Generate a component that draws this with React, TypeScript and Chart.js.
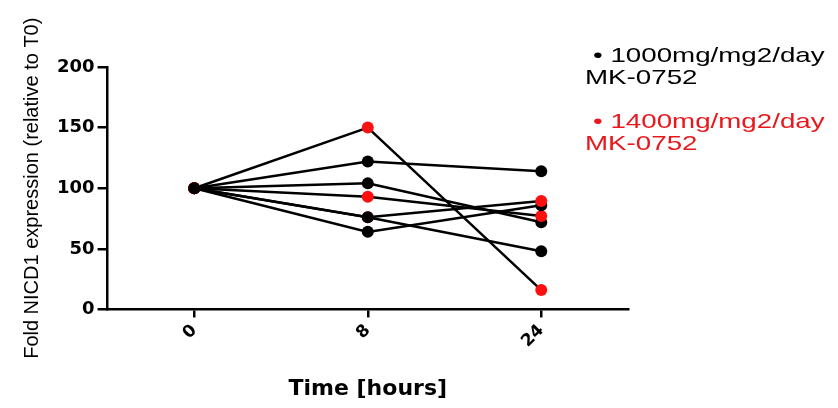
import React, { useEffect, useRef } from "react";
import { Chart, registerables } from "chart.js";

Chart.register(...registerables);

// Time points (hours)
const timeLabels = ["0", "8", "24"];

// Individual patient traces, 1000 mg/m2/day MK-0752 (black)
const dose1000_p1 = [100, 122, 114];
const dose1000_p2 = [100, 104, 72];
const dose1000_p3 = [100, 76, 48];
const dose1000_p4 = [100, 64, 86];

// Individual patient traces, 1400 mg/m2/day MK-0752 (red)
const dose1400_p1 = [100, 150, 16];
const dose1400_p2 = [100, 93, 77];
const dose1400_p3 = [100, 76, 89.5];

const yTicks = [0, 50, 100, 150, 200];

const legendLines1000 = ["\u2022 1000mg/mg2/day", "MK-0752"];
const legendLines1400 = ["\u2022 1400mg/mg2/day", "MK-0752"];

const BLACK = "#000000";
const RED = "#ff1010";
const RED_TEXT = "#e8181c";

const legendPlugin = {
  id: "textLegend",
  afterDraw(chart: any) {
    const ctx = chart.ctx;
    const groups = [
      { lines: legendLines1000, color: BLACK, x0: 593, x1: 585, y: 56 },
      { lines: legendLines1400, color: RED_TEXT, x0: 593, x1: 585, y: 122 },
    ];
    ctx.save();
    ctx.font = "21px 'Liberation Sans', Arial, sans-serif";
    ctx.textBaseline = "middle";
    ctx.textAlign = "left";
    groups.forEach((g) => {
      ctx.fillStyle = g.color;
      g.lines.forEach((line, i) => {
        ctx.save();
        ctx.translate(i === 0 ? g.x0 : g.x1, g.y + i * 22);
        ctx.scale(1.32, 1);
        ctx.fillText(line, 0, 0);
        ctx.restore();
      });
    });
    ctx.restore();
  },
};

function makeDataset(values: number[], color: string) {
  return {
    data: values,
    borderColor: BLACK,
    borderWidth: 2.5,
    pointRadius: 6,
    pointHoverRadius: 6,
    pointBorderWidth: 0,
    pointBackgroundColor: color,
    pointBorderColor: color,
    fill: false,
    tension: 0,
  };
}

export default function App() {
  const canvasRef = useRef<HTMLCanvasElement | null>(null);

  useEffect(() => {
    document.body.style.margin = "0";
    const canvas = canvasRef.current;
    if (!canvas) return;
    // index 0 is drawn on top
    const datasets = [
      makeDataset(dose1000_p3, BLACK),
      makeDataset(dose1400_p3, RED),
      makeDataset(dose1000_p4, BLACK),
      makeDataset(dose1400_p2, RED),
      makeDataset(dose1400_p1, RED),
      makeDataset(dose1000_p1, BLACK),
      makeDataset(dose1000_p2, BLACK),
    ];
    const chart = new Chart(canvas, {
      type: "line",
      data: { labels: timeLabels, datasets },
      options: {
        animation: false,
        responsive: true,
        maintainAspectRatio: false,
        layout: { padding: { left: 20, right: 210, top: 67, bottom: 6 } },
        plugins: {
          legend: { display: false },
          tooltip: { enabled: false },
        },
        scales: {
          x: {
            type: "category",
            offset: true,
            grid: {
              display: true,
              drawOnChartArea: false,
              drawTicks: true,
              tickLength: 8,
              color: BLACK,
              lineWidth: 2.5,
            },
            border: { display: true, color: BLACK, width: 2.5 },
            ticks: {
              color: BLACK,
              font: { family: "'DejaVu Sans', sans-serif", weight: "bold", size: 17 },
              minRotation: 45,
              maxRotation: 45,
              padding: 3,
            },
            title: {
              display: true,
              text: "Time [hours]",
              color: BLACK,
              font: { family: "'DejaVu Sans', sans-serif", weight: "bold", size: 22 },
              padding: { top: 21, bottom: 0 },
            },
          },
          y: {
            min: 0,
            max: 200,
            afterBuildTicks: (axis: any) => {
              axis.ticks = yTicks.map((v) => ({ value: v }));
            },
            grid: {
              display: true,
              drawOnChartArea: false,
              drawTicks: true,
              tickLength: 10,
              color: BLACK,
              lineWidth: 2.5,
            },
            border: { display: true, color: BLACK, width: 2.5 },
            ticks: {
              color: BLACK,
              font: { family: "'DejaVu Sans', sans-serif", weight: "bold", size: 18 },
              padding: 3,
            },
            title: {
              display: true,
              text: "Fold NICD1 expression (relative to T0)",
              color: BLACK,
              font: { family: "'Liberation Sans', Arial, sans-serif", size: 20 },
              padding: { top: 0, bottom: 10 },
            },
          },
        },
      },
      plugins: [legendPlugin],
    });
    return () => chart.destroy();
  }, []);

  return (
    <div style={{ position: "relative", width: 838, height: 408 }}>
      <canvas ref={canvasRef} />
    </div>
  );
}
